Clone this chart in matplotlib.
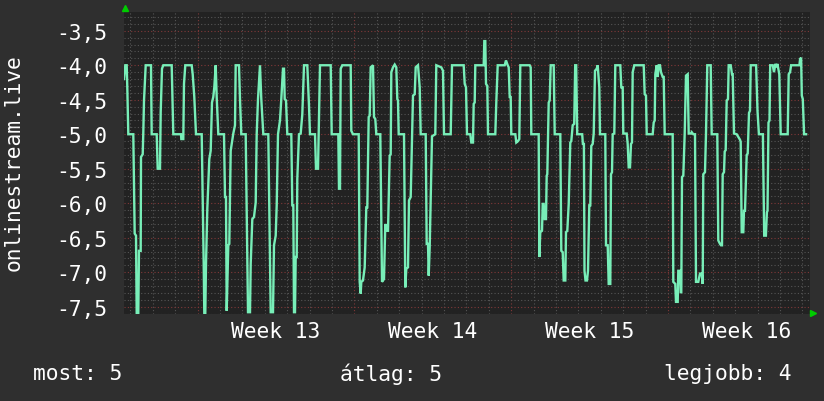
import numpy as np
import matplotlib
matplotlib.use("Agg")
import matplotlib.pyplot as plt

# days relative to the start of week 13
days_1 = [-3.290, -3.232, -3.170, -3.143, -3.098, -2.875, -2.813, -2.754, -2.723, -2.652,
          -2.621, -2.545, -2.531, -2.455, -2.429, -2.397, -2.321, -2.085, -2.054, -1.830,
          -1.786, -1.683, -1.652, -1.594, -1.536, -1.161, -1.089, -0.746, -0.732, -0.643,
          -0.612, -0.554, -0.268, -0.223, -0.152, -0.076, 0.179, 0.268, 0.295, 0.339,
          0.371, 0.429, 0.518, 0.580, 0.638, 0.696, 0.741, 0.804, 0.848, 0.920,
          1.174, 1.219, 1.263, 1.295, 1.366, 1.411, 1.473, 1.589, 1.665]
vals_1 = [-4.2, -4.0, -4.0, -4.32, -5.0, -5.0, -6.44, -6.47, -7.6, -7.6,
          -6.69, -6.69, -5.33, -5.29, -4.99, -4.51, -4.0, -4.0, -5.0, -5.0,
          -5.5, -5.5, -4.68, -4.05, -4.0, -4.0, -5.0, -5.0, -5.07, -5.07,
          -4.27, -4.0, -4.0, -4.13, -4.46, -5.0, -5.0, -6.88, -7.6, -7.6,
          -6.88, -6.08, -5.36, -5.24, -4.54, -4.46, -4.32, -4.0, -4.46, -5.0,
          -5.0, -5.91, -5.91, -7.56, -6.61, -6.59, -5.24, -4.99, -4.87]

days_2 = [1.696, 1.844, 1.888, 1.946, 2.143, 2.188, 2.246, 2.335, 2.366, 2.438,
          2.513, 2.589, 2.634, 2.692, 2.781, 2.839, 2.929, 3.152, 3.196, 3.259,
          3.362, 3.406, 3.482, 3.527, 3.585, 3.674, 3.732, 3.808, 3.853, 3.884,
          3.942, 4.000, 4.179, 4.223, 4.268, 4.299, 4.344, 4.375, 4.420, 4.446,
          4.522, 4.598, 4.670, 4.746, 4.893, 4.969, 5.013, 5.237, 5.281, 5.371,
          5.460, 5.938, 5.982, 6.277, 6.308, 6.353, 6.384, 6.455, 6.799]
vals_2 = [-4.0, -4.0, -4.49, -5.0, -5.0, -6.08, -7.58, -7.58, -6.88, -6.23,
          -6.2, -5.99, -5.0, -4.49, -4.0, -4.49, -5.0, -5.0, -6.03, -7.58,
          -7.58, -6.61, -6.47, -6.03, -5.0, -4.80, -4.49, -4.05, -4.05, -4.49,
          -4.51, -5.0, -5.0, -6.03, -6.03, -7.58, -7.58, -6.78, -6.78, -5.65,
          -5.0, -4.99, -4.71, -4.0, -4.0, -4.59, -5.0, -5.0, -5.5, -5.5,
          -4.0, -4.0, -5.0, -5.0, -5.79, -5.79, -4.05, -4.0, -4.0]

days_3 = [6.830, 6.857, 6.933, 7.188, 7.232, 7.277, 7.304, 7.379, 7.455, 7.527,
          7.571, 7.634, 7.679, 7.723, 7.826, 7.871, 7.929, 7.973, 8.152, 8.196,
          8.228, 8.317, 8.375, 8.420, 8.496, 8.571, 8.616, 8.643, 8.719, 8.795,
          8.866, 8.911, 8.942, 8.973, 9.210, 9.268, 9.313, 9.388, 9.433, 9.509,
          9.567, 9.612, 9.688, 9.732, 9.835, 9.911, 9.955, 10.179, 10.223, 10.281,
          10.313, 10.357, 10.402, 10.460, 10.607, 10.652, 10.875, 10.951, 10.996, 11.295,
          11.353]
vals_3 = [-4.0, -4.95, -5.0, -5.0, -7.14, -7.31, -7.14, -7.12, -6.93, -6.06,
          -6.06, -4.75, -4.73, -4.03, -4.0, -4.75, -4.78, -5.0, -5.0, -6.30,
          -7.14, -7.10, -6.30, -6.40, -6.40, -5.31, -5.29, -4.10, -4.03, -3.99,
          -4.03, -4.49, -4.51, -5.0, -5.0, -7.22, -6.95, -6.93, -5.96, -5.91,
          -5.09, -4.44, -4.42, -4.03, -4.0, -4.32, -5.0, -5.0, -6.59, -6.59,
          -7.05, -6.64, -5.96, -5.03, -5.0, -4.0, -4.03, -4.08, -5.0, -5.0,
          -4.0]

days_4 = [11.875, 11.920, 11.978, 12.022, 12.170, 12.214, 12.290, 12.321, 12.366, 12.393,
          12.768, 12.795, 12.839, 12.871, 12.929, 12.960, 13.286, 13.330, 13.393, 13.705,
          13.763, 13.839, 13.884, 13.929, 13.973, 14.000, 14.179, 14.223, 14.299, 14.357,
          14.402, 14.821, 14.866, 14.893, 15.223, 15.250, 15.295, 15.371, 15.402, 15.446,
          15.491, 15.549, 15.580, 15.607, 15.670, 15.714, 15.759, 15.893, 15.938, 16.188,
          16.232, 16.295, 16.339, 16.411, 16.442, 16.500, 16.563, 16.634, 16.679, 16.741,
          16.808, 16.853, 16.897]
vals_4 = [-4.0, -4.27, -4.32, -5.0, -5.0, -5.12, -5.12, -4.56, -4.54, -4.0,
          -4.0, -3.65, -3.65, -4.27, -4.30, -5.0, -5.0, -4.54, -4.0, -4.0,
          -3.93, -4.0, -4.03, -4.46, -4.46, -5.0, -5.0, -5.12, -5.10, -5.07,
          -4.0, -4.0, -4.03, -5.0, -5.0, -6.78, -6.42, -6.40, -6.01, -6.01,
          -6.23, -6.23, -5.60, -5.58, -4.54, -4.51, -4.0, -4.0, -5.0, -5.0,
          -6.69, -6.71, -7.12, -7.12, -6.42, -6.40, -6.01, -5.12, -5.10, -4.87,
          -4.85, -4.0, -4.0]

days_5 = [16.942, 17.165, 17.196, 17.241, 17.268, 17.313, 17.379, 17.424, 17.482, 17.527,
          17.571, 17.634, 17.679, 17.737, 17.813, 17.857, 17.929, 17.960, 18.196, 18.228,
          18.304, 18.348, 18.420, 18.451, 18.496, 18.527, 18.598, 18.643, 18.866, 18.911,
          18.973, 19.000, 19.152, 19.196, 19.241, 19.299, 19.344, 19.388, 19.420, 19.491,
          19.911, 19.955, 20.013, 20.045, 20.313, 20.357, 20.402, 20.429, 20.491, 20.536,
          20.580, 20.638, 20.683, 20.759, 20.804, 20.848, 21.205, 21.232, 21.321, 21.353,
          21.429, 21.455, 21.531, 21.563, 21.589, 21.621, 21.679, 21.741, 21.799, 21.875,
          21.920, 22.022]
vals_5 = [-5.0, -5.0, -5.14, -5.14, -6.98, -7.12, -7.12, -6.98, -6.03, -6.03,
          -5.17, -5.14, -4.99, -4.08, -4.05, -4.0, -4.32, -5.0, -5.0, -6.61,
          -6.61, -7.17, -7.17, -5.58, -5.55, -5.0, -4.99, -4.0, -4.0, -4.32,
          -4.32, -4.99, -4.99, -5.14, -5.48, -5.48, -5.14, -5.12, -4.1, -4.0,
          -4.0, -4.42, -4.44, -5.0, -5.0, -4.83, -4.80, -4.13, -4.0, -4.17,
          -4.0, -4.0, -4.1, -4.17, -4.17, -5.0, -5.0, -7.14, -7.17, -7.43,
          -7.43, -6.98, -6.98, -7.29, -7.29, -5.62, -5.60, -4.99, -4.15, -4.13,
          -4.99, -4.99]

days_6 = [22.054, 22.125, 22.201, 22.246, 22.348, 22.424, 22.500, 22.545, 22.571, 22.647,
          22.692, 22.750, 22.902, 22.946, 23.196, 23.241, 23.317, 23.362, 23.406, 23.438,
          23.496, 23.527, 23.571, 23.616, 23.674, 23.705, 23.795, 23.853, 23.884, 23.942,
          24.063, 24.210, 24.241, 24.286, 24.357, 24.388, 24.433, 24.509, 24.554, 24.612,
          24.656, 24.688, 24.929, 24.991, 25.054, 25.232, 25.290, 25.366, 25.411, 25.438,
          25.482, 25.527, 25.558, 25.670, 25.728, 25.788, 25.848, 25.875, 25.920, 25.964,
          26.027, 26.339, 26.384, 26.446, 26.491, 26.862, 26.893, 26.938, 26.969, 27.013,
          27.071, 27.161]
vals_6 = [-4.97, -5.0, -5.0, -7.14, -7.14, -7.02, -7.02, -7.17, -5.58, -5.55,
          -4.99, -4.0, -4.0, -5.0, -5.0, -6.54, -6.59, -6.61, -6.61, -5.58,
          -5.55, -5.25, -5.23, -4.51, -4.49, -4.0, -4.0, -4.13, -4.13, -4.99,
          -5.0, -5.08, -5.11, -6.42, -6.42, -6.11, -6.11, -5.30, -5.28, -4.69,
          -4.66, -4.0, -4.0, -4.66, -5.0, -5.0, -6.47, -6.47, -6.13, -6.11,
          -4.83, -4.80, -4.0, -4.0, -4.1, -3.98, -4.03, -3.98, -4.05, -4.13,
          -5.0, -5.0, -4.13, -4.1, -4.0, -4.0, -3.91, -3.89, -4.44, -4.49,
          -5.0, -5.0]

week_labels = ["Week 13", "Week 14", "Week 15", "Week 16"]
week_starts = [0, 7, 14, 21]
y_ticks = [-7.5, -7.0, -6.5, -6.0, -5.5, -5.0, -4.5, -4.0, -3.5]
ylabel = "onlinestream.live"
legend_items = ["most: 5", "átlag: 5", "legjobb: 4"]

days = np.concatenate([days_1, days_2, days_3, days_4, days_5, days_6])
vals = np.concatenate([vals_1, vals_2, vals_3, vals_4, vals_5, vals_6])

bg = "#2f2f2f"
plot_bg = "#222222"
line_c = "#78eeb8"
mono = "DejaVu Sans Mono"
fs = 15.3

fig = plt.figure(figsize=(8.24, 4.02), dpi=100, facecolor=bg)
ax = fig.add_axes([124 / 824, 1 - 315 / 402, 686 / 824, 302 / 402])
ax.set_facecolor(plot_bg)
ax.set_xlim(-3.29, 27.335)
ax.set_ylim(-7.606, -3.228)

# grid: gray dotted every day / 0.1, red dotted at weeks / 0.5
dot = (0, (1, 2))
for d in np.arange(-3, 28):
    if d in week_starts:
        continue
    ax.axvline(d, color="#555555", lw=0.8, ls=dot, zorder=1)
for w in week_starts:
    ax.axvline(w, color="#803838", lw=0.8, ls=dot, zorder=1)
for y in np.arange(-7.6, -3.2, 0.1):
    if np.isclose(y * 2, round(y * 2)):
        continue
    ax.axhline(y, color="#555555", lw=0.8, ls=dot, zorder=1)
for y in y_ticks:
    ax.axhline(y, color="#803838", lw=0.8, ls=dot, zorder=1)

ax.plot(days, vals, color=line_c, lw=1.7, zorder=3, solid_joinstyle="miter")

for s in ax.spines.values():
    s.set_visible(False)
ax.set_xticks([])
ax.set_yticks(y_ticks)
ax.set_yticklabels([f"{v:.1f}".replace(".", ",") for v in y_ticks],
                   family=mono, fontsize=fs, color="white")
ax.tick_params(axis="y", length=0, pad=12)

for lab, w in zip(week_labels, week_starts):
    ax.text(w + 3.5, -0.055, lab, transform=ax.get_xaxis_transform(),
            ha="center", va="center", family=mono, fontsize=fs, color="white")

# small green arrows at axis ends
ax.plot([0.002], [1.012], marker="^", ms=5, color="#00cc00", transform=ax.transAxes, clip_on=False)
ax.plot([1.004], [0.004], marker=">", ms=5, color="#00cc00", transform=ax.transAxes, clip_on=False)

fig.text(14 / 824, 1 - 163 / 402, ylabel, rotation=90, ha="center", va="center",
         family=mono, fontsize=fs, color="white")
fig.text(33 / 824, 1 - 374 / 402, legend_items[0], ha="left", va="center",
         family=mono, fontsize=fs, color="white")
fig.text(340 / 824, 1 - 374 / 402, legend_items[1], ha="left", va="center",
         family=mono, fontsize=fs, color="white")
fig.text(792 / 824, 1 - 374 / 402, legend_items[2], ha="right", va="center",
         family=mono, fontsize=fs, color="white")

fig.savefig("out.png", dpi=100, facecolor=bg)
